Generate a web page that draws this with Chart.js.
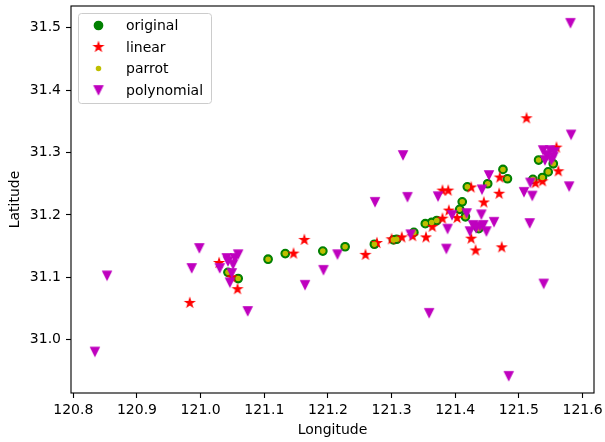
<!DOCTYPE html>
<html>
<head>
<meta charset="utf-8">
<script src="https://cdn.jsdelivr.net/npm/chart.js@4.4.1/dist/chart.umd.min.js"></script>
<style>
    html, body { margin: 0; padding: 0; background: #fff; }
    #contenedor { width: 605px; height: 442px; }
</style>
</head>
<body>
<div id="contenedor"><canvas id="grafico"></canvas></div>
<script>
// puntos originales (longitud, latitud)
const origLon = [121.059, 121.043, 121.106, 121.133, 121.192, 121.227, 121.273, 121.303, 121.308, 121.335,
    121.353, 121.363, 121.371, 121.407, 121.411, 121.416, 121.419, 121.437, 121.451, 121.475,
    121.482, 121.522, 121.531, 121.537, 121.546, 121.554];
const origLat = [31.098, 31.108, 31.129, 31.138, 31.142, 31.149, 31.153, 31.160, 31.161, 31.172,
    31.186, 31.188, 31.191, 31.209, 31.221, 31.197, 31.245, 31.178, 31.250, 31.273,
    31.258, 31.257, 31.288, 31.260, 31.269, 31.282];

// parrot cae encima de los originales
const parrotLon = origLon.slice();
const parrotLat = origLat.slice();

// interpolacion lineal
const linearLon = [120.983, 121.029, 121.049, 121.058, 121.146, 121.163, 121.259, 121.277, 121.300, 121.316,
    121.333, 121.354, 121.364, 121.380, 121.380, 121.389, 121.390, 121.403, 121.425, 121.425,
    121.432, 121.445, 121.469, 121.470, 121.473, 121.512, 121.526, 121.537, 121.559, 121.562];
const linearLat = [31.059, 31.123, 31.100, 31.081, 31.138, 31.160, 31.136, 31.155, 31.161, 31.164,
    31.166, 31.164, 31.181, 31.194, 31.239, 31.239, 31.207, 31.195, 31.244, 31.162,
    31.143, 31.220, 31.234, 31.260, 31.148, 31.355, 31.251, 31.254, 31.308, 31.270];

// interpolacion polinomica
const polyLon = [120.834, 120.853, 120.986, 120.998, 121.030, 121.041, 121.043, 121.049, 121.051, 121.054,
    121.059, 121.046, 121.074, 121.164, 121.193, 121.215, 121.274, 121.318, 121.325, 121.330,
    121.359, 121.373, 121.386, 121.388, 121.395, 121.418, 121.428, 121.439, 121.441, 121.442,
    121.444, 121.449, 121.453, 121.461, 121.484, 121.508, 121.517, 121.518, 121.521, 121.538,
    121.549, 121.544, 121.554, 121.541, 121.551, 121.556, 121.539, 121.579, 121.581, 121.582,
    121.423, 121.433];
const polyLat = [30.981, 31.103, 31.115, 31.147, 31.115, 31.131, 31.126, 31.107, 31.121, 31.131,
    31.137, 31.092, 31.046, 31.088, 31.112, 31.137, 31.221, 31.296, 31.229, 31.169,
    31.043, 31.230, 31.146, 31.178, 31.200, 31.203, 31.184, 31.182, 31.201, 31.241,
    31.184, 31.174, 31.264, 31.189, 30.942, 31.237, 31.187, 31.252, 31.231, 31.304,
    31.304, 31.296, 31.293, 31.288, 31.288, 31.301, 31.090, 31.246, 31.508, 31.329,
    31.174, 31.179];

// limites de los ejes y paso de las marcas
const xMin = 120.7964, xMax = 121.618;
const yMin = 30.9145, yMax = 31.535;
const paso = 0.1;

const PT = 100 / 72; // un punto tipografico en pixeles

// une dos vectores en puntos {x, y}
let puntos = (lon, lat) => lon.map((v, i) => ({ x: v, y: lat[i] }));

// solo deja las marcas multiplos del paso
let soloMultiplos = (s) => {
    s.ticks = s.ticks.filter(t => Math.abs(t.value / paso - Math.round(t.value / paso)) < 1e-6);
};

// dibuja estrella o triangulo en un canvas chico para usarlo como pointStyle
let hacerMarcador = (tipo, color) => {
    const c = document.createElement('canvas');
    c.width = 16;
    c.height = 16;
    const g = c.getContext('2d');
    const r = 3 * PT;
    g.translate(8, 8);
    g.beginPath();
    if (tipo === 'estrella') {
        const ri = r * 0.381966;
        for (let i = 0; i < 10; i++) {
            const ang = -Math.PI / 2 + i * Math.PI / 5;
            const rr = i % 2 ? ri : r;
            g.lineTo(Math.cos(ang) * rr, Math.sin(ang) * rr);
        }
    } else {
        g.moveTo(0, r);
        g.lineTo(-r, -r);
        g.lineTo(r, -r);
    }
    g.closePath();
    g.fillStyle = color;
    g.fill();
    g.lineWidth = PT;
    g.lineJoin = 'miter';
    g.strokeStyle = color;
    g.stroke();
    return c;
};

const estrella = hacerMarcador('estrella', '#ff0000');
const triangulo = hacerMarcador('triangulo', '#bf00bf');

// marco de los 4 lados y leyenda dentro del area
const marcoYLeyenda = {
    id: 'marcoYLeyenda',
    afterDatasetsDraw(chart) {
        const ctx = chart.ctx;
        const a = chart.chartArea;
        ctx.save();
        ctx.strokeStyle = '#000';
        ctx.lineWidth = 0.8 * PT;
        ctx.strokeRect(a.left, a.top, a.right - a.left, a.bottom - a.top);

        // caja de la leyenda
        const bx = a.left + 7.5, by = a.top + 7.5, bw = 133, bh = 90;
        ctx.beginPath();
        ctx.roundRect(bx, by, bw, bh, 3);
        ctx.fillStyle = 'rgba(255,255,255,0.8)';
        ctx.fill();
        ctx.strokeStyle = '#cccccc';
        ctx.lineWidth = 1;
        ctx.stroke();

        ctx.font = '14px "DejaVu Sans"';
        ctx.textBaseline = 'middle';
        chart.data.datasets.forEach((ds, i) => {
            const my = by + 12 + i * 21.5;
            const mx = bx + 20;
            if (ds.pointStyle === 'circle') {
                ctx.beginPath();
                ctx.arc(mx, my, ds.pointRadius, 0, Math.PI * 2);
                ctx.fillStyle = ds.backgroundColor;
                ctx.fill();
                ctx.lineWidth = ds.borderWidth;
                ctx.strokeStyle = ds.borderColor;
                ctx.stroke();
            } else {
                ctx.drawImage(ds.pointStyle, mx - 8, my - 8);
            }
            ctx.fillStyle = '#000';
            ctx.fillText(ds.label, bx + 47.5, my + 1);
        });
        ctx.restore();
    }
};

Chart.defaults.font.family = '"DejaVu Sans", sans-serif';
Chart.defaults.font.size = 14;
Chart.defaults.color = '#000';

const ctx = document.getElementById('grafico');

let chart = new Chart(ctx, {
    type: 'scatter',
    data: {
        datasets: [{
                label: 'original',
                data: puntos(origLon, origLat),
                pointStyle: 'circle',
                pointRadius: 3 * PT,
                borderWidth: PT,
                backgroundColor: '#008000',
                borderColor: '#008000',
                order: 4
            },
            {
                label: 'linear',
                data: puntos(linearLon, linearLat),
                pointStyle: estrella,
                pointRadius: 5,
                order: 3
            },
            {
                label: 'parrot',
                data: puntos(parrotLon, parrotLat),
                pointStyle: 'circle',
                pointRadius: 1.5 * PT,
                borderWidth: PT,
                backgroundColor: '#bfbf00',
                borderColor: '#bfbf00',
                order: 2
            },
            {
                label: 'polynomial',
                data: puntos(polyLon, polyLat),
                pointStyle: triangulo,
                pointRadius: 5,
                order: 1
            }
        ]
    },
    options: {
        responsive: true,
        maintainAspectRatio: false,
        animation: false,
        events: [],
        layout: {
            padding: { top: 3, right: 11, left: 0, bottom: 0 }
        },
        plugins: {
            legend: { display: false },
            tooltip: { enabled: false }
        },
        scales: {
            x: {
                type: 'linear',
                min: xMin,
                max: xMax,
                afterFit: (s) => {
                    s.height = 49;
                    s.paddingLeft = 0;
                    s.paddingRight = 0;
                },
                afterBuildTicks: soloMultiplos,
                ticks: {
                    stepSize: paso,
                    includeBounds: false,
                    autoSkip: false,
                    maxRotation: 0,
                    padding: 4,
                    callback: (v) => v.toFixed(1)
                },
                grid: {
                    drawOnChartArea: false,
                    drawTicks: true,
                    tickLength: 5,
                    tickColor: '#000',
                    tickWidth: 0.8 * PT
                },
                border: { display: false },
                title: {
                    display: true,
                    text: 'Longitude',
                    padding: { top: 0, bottom: 3 }
                }
            },
            y: {
                type: 'linear',
                min: yMin,
                max: yMax,
                afterFit: (s) => {
                    s.width = 71;
                    s.paddingTop = 0;
                    s.paddingBottom = 0;
                },
                afterBuildTicks: soloMultiplos,
                ticks: {
                    stepSize: paso,
                    includeBounds: false,
                    autoSkip: false,
                    padding: 5,
                    callback: (v) => v.toFixed(1)
                },
                grid: {
                    drawOnChartArea: false,
                    drawTicks: true,
                    tickLength: 5,
                    tickColor: '#000',
                    tickWidth: 0.8 * PT
                },
                border: { display: false },
                title: {
                    display: true,
                    text: 'Latitude',
                    padding: { top: 7, bottom: 0 }
                }
            }
        }
    },
    plugins: [marcoYLeyenda]
});
</script>
</body>
</html>
